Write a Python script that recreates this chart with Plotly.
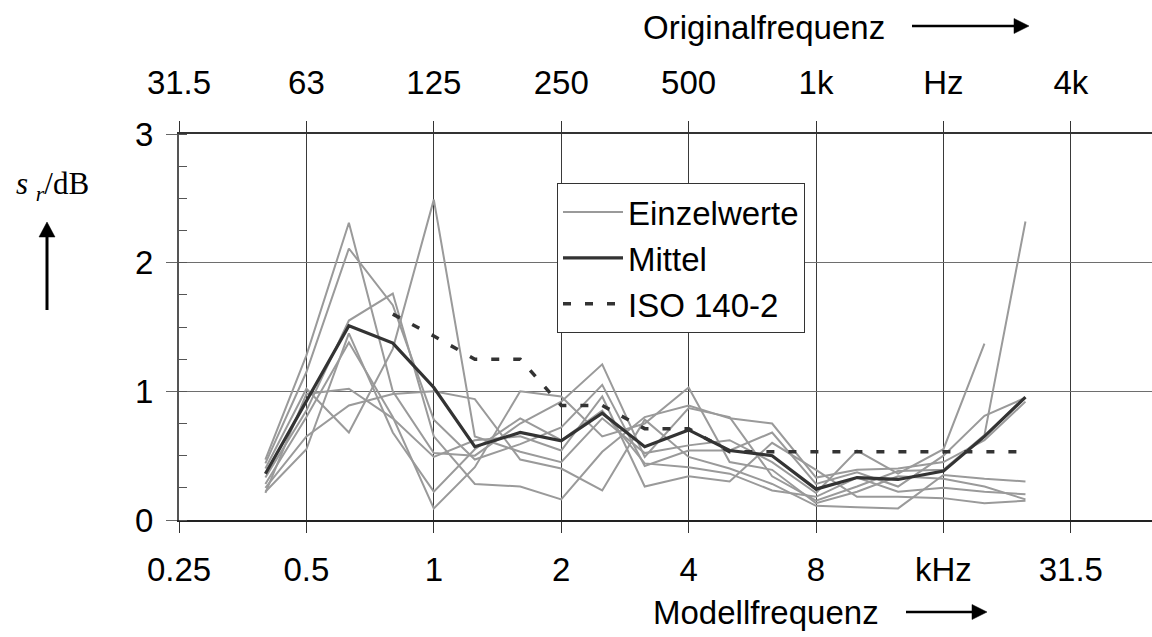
import plotly.graph_objects as go

# Third-octave band centre frequencies of the model (kHz)
freq_khz = [0.4, 0.5, 0.63, 0.8, 1, 1.25, 1.6, 2, 2.5, 3.15, 4, 5, 6.3, 8, 10, 12.5, 16, 20, 25]

# Standard deviation of repeated measurements, individual series (dB)
einzel_1 = [0.40, 1.02, 0.68, 1.33, 2.49, 0.65, 0.53, 0.45, 0.79, 0.52, 0.58, 0.62, 0.45, 0.21, 0.54, 0.36, 0.55, 1.37, None]
einzel_2 = [0.47, 1.28, 2.31, 1.00, 0.52, 0.50, 0.75, 0.92, 1.21, 0.49, 0.87, 0.80, 0.34, 0.15, 0.26, 0.38, 0.39, 0.66, 2.32]
einzel_3 = [0.44, 1.15, 2.11, 1.67, 0.78, 0.47, 0.59, 0.72, 1.05, 0.42, 0.54, 0.54, 0.68, 0.28, 0.37, 0.26, 0.50, 0.81, 0.95]
einzel_4 = [0.33, 0.85, 1.55, 1.76, 0.65, 0.28, 0.26, 0.16, 0.53, 0.80, 0.89, 0.79, 0.75, 0.33, 0.39, 0.40, 0.45, 0.62, 0.92]
einzel_5 = [0.28, 0.80, 1.38, 0.80, 0.09, 0.41, 1.00, 0.96, 0.65, 0.75, 1.03, 0.45, 0.39, 0.13, 0.22, 0.34, 0.32, 0.26, 0.16]
einzel_6 = [0.25, 0.65, 0.89, 0.98, 1.00, 0.94, 0.47, 0.40, 0.23, 0.78, 0.49, 0.40, 0.28, 0.11, 0.10, 0.09, 0.35, 0.32, 0.30]
einzel_7 = [0.22, 0.55, 1.45, 0.68, 0.22, 0.55, 0.79, 0.62, 0.85, 0.44, 0.41, 0.36, 0.23, 0.18, 0.33, 0.22, 0.25, 0.22, 0.20]
einzel_8 = [0.21, 0.98, 1.02, 0.79, 0.49, 0.62, 0.65, 0.54, 0.96, 0.26, 0.34, 0.30, 0.60, 0.39, 0.18, 0.18, 0.17, 0.13, 0.15]
einzelwerte = [einzel_1, einzel_2, einzel_3, einzel_4, einzel_5, einzel_6, einzel_7, einzel_8]

# Mean over all series (dB)
mittel = [0.36, 0.93, 1.51, 1.375, 1.03, 0.57, 0.68, 0.615, 0.83, 0.57, 0.70, 0.54, 0.50, 0.24, 0.33, 0.315, 0.38, 0.65, 0.955]

# Reproducibility limit according to ISO 140-2 (dB), from 0.8 kHz on
iso_freq_khz = [0.8, 1, 1.25, 1.6, 2, 2.5, 3.15, 4, 5, 6.3, 8, 10, 12.5, 16, 20, 25]
iso_140_2 = [1.60, 1.43, 1.25, 1.25, 0.89, 0.89, 0.71, 0.71, 0.53, 0.53, 0.53, 0.53, 0.53, 0.53, 0.53, 0.53]

# Octave grid and its two sets of labels (model scale 1:8)
octave_ticks = [0.25, 0.5, 1, 2, 4, 8, 16, 32]
modell_labels = ["0.25", "0.5", "1", "2", "4", "8", "kHz", "31.5"]
original_labels = ["31.5", "63", "125", "250", "500", "1k", "Hz", "4k"]
y_ticks = [0, 1, 2, 3]

W, H = 1152, 637
L, R, T, B = 179, 1152, 134, 520
X_RANGE = [-0.60206, 1.6969]


def px(x):
    return (x - L) / (R - L)


def py(y):
    return (B - y) / (B - T)


SANS = "Liberation Sans, Arial, sans-serif"
SERIF = "Liberation Serif, Times New Roman, serif"

fig = go.Figure()

for i, series in enumerate(einzelwerte):
    fig.add_trace(go.Scatter(
        x=freq_khz, y=series, mode="lines",
        line=dict(color="#9a9a9a", width=2),
        name="Einzelwerte", legendgroup="einzel", showlegend=(i == 0),
        connectgaps=False,
    ))

fig.add_trace(go.Scatter(
    x=freq_khz, y=mittel, mode="lines",
    line=dict(color="#333333", width=3.2),
    name="Mittel",
))

# The ISO curve sits on the upper (original-frequency) axis, which shares the range
fig.add_trace(go.Scatter(
    x=iso_freq_khz, y=iso_140_2, mode="lines",
    xaxis="x2", yaxis="y",
    line=dict(color="#333333", width=3.5, dash="8px,14px"),
    name="ISO 140-2",
))

fig.update_layout(
    width=W, height=H, autosize=False,
    margin=dict(l=L, r=W - R, t=T, b=H - B),
    paper_bgcolor="white", plot_bgcolor="white",
    font=dict(family=SANS, size=33, color="black"),
    showlegend=True,
    legend=dict(
        x=px(557), y=py(183), xanchor="left", yanchor="top",
        bgcolor="white", bordercolor="#333333", borderwidth=1,
        font=dict(family=SANS, size=33, color="black"),
        itemwidth=60, tracegroupgap=0,
    ),
    xaxis=dict(
        type="log", range=X_RANGE,
        tickmode="array", tickvals=octave_ticks, ticktext=modell_labels,
        ticks="outside", ticklen=11, tickcolor="#333333", tickwidth=1,
        showgrid=True, gridcolor="#3a3a3a", gridwidth=1,
        showline=True, linecolor="#222222", linewidth=1.5,
        zeroline=False, tickfont=dict(size=33),
        ticklabelstandoff=9,
    ),
    xaxis2=dict(
        type="log", range=X_RANGE, overlaying="x", side="top", anchor="y",
        matches="x",
        tickmode="array", tickvals=octave_ticks, ticktext=original_labels,
        ticks="outside", ticklen=11, tickcolor="#333333", tickwidth=1,
        showgrid=False, showline=True, linecolor="#333333", linewidth=2,
        zeroline=False, tickfont=dict(size=33),
        ticklabelstandoff=14,
    ),
    yaxis=dict(
        range=[0, 3], tickmode="array", tickvals=y_ticks,
        ticks="outside", ticklen=11, tickcolor="#666666", tickwidth=1,
        minor=dict(ticks="inside", ticklen=8, dtick=0.25, tick0=0,
                   tickcolor="#555555", tickwidth=1, showgrid=False),
        showgrid=True, gridcolor="#6e6e6e", gridwidth=1,
        showline=True, linecolor="#555555", linewidth=2,
        zeroline=False, tickfont=dict(size=33),
        ticklabelstandoff=6,
    ),
)

# Axis titles with direction arrows
fig.add_annotation(
    text="Originalfrequenz", xref="paper", yref="paper",
    x=px(764), y=py(28), xanchor="center", yanchor="middle",
    showarrow=False, font=dict(family=SANS, size=33, color="black"),
)
fig.add_annotation(
    text="Modellfrequenz", xref="paper", yref="paper",
    x=px(766), y=py(612), xanchor="center", yanchor="middle",
    showarrow=False, font=dict(family=SANS, size=33, color="black"),
)
fig.add_annotation(
    text="<i>s</i> <sub><i>r</i></sub>/dB", xref="paper", yref="paper",
    x=px(52), y=py(186), xanchor="center", yanchor="middle",
    showarrow=False, font=dict(family=SERIF, size=31, color="black"),
)


def arrow(x0, y0, x1, y1, head=15, half=7.5, width=2.5):
    """Straight arrow from (x0, y0) to tip (x1, y1), pixel coordinates."""
    dx, dy = x1 - x0, y1 - y0
    n = (dx * dx + dy * dy) ** 0.5
    ux, uy = dx / n, dy / n
    bx, by = x1 - ux * head, y1 - uy * head
    fig.add_shape(type="line", xref="paper", yref="paper",
                  x0=px(x0), y0=py(y0), x1=px(bx + ux), y1=py(by + uy),
                  line=dict(color="black", width=width))
    p1 = (bx - uy * half, by + ux * half)
    p2 = (bx + uy * half, by - ux * half)
    path = "M {} {} L {} {} L {} {} Z".format(
        px(x1), py(y1), px(p1[0]), py(p1[1]), px(p2[0]), py(p2[1]))
    fig.add_shape(type="path", xref="paper", yref="paper", path=path,
                  fillcolor="black", line=dict(color="black", width=0.5))


arrow(912, 26, 1029, 26)
arrow(906, 612, 987, 612)
arrow(47, 310, 47, 222, head=15, half=8, width=3)

fig.write_html("out.html")
